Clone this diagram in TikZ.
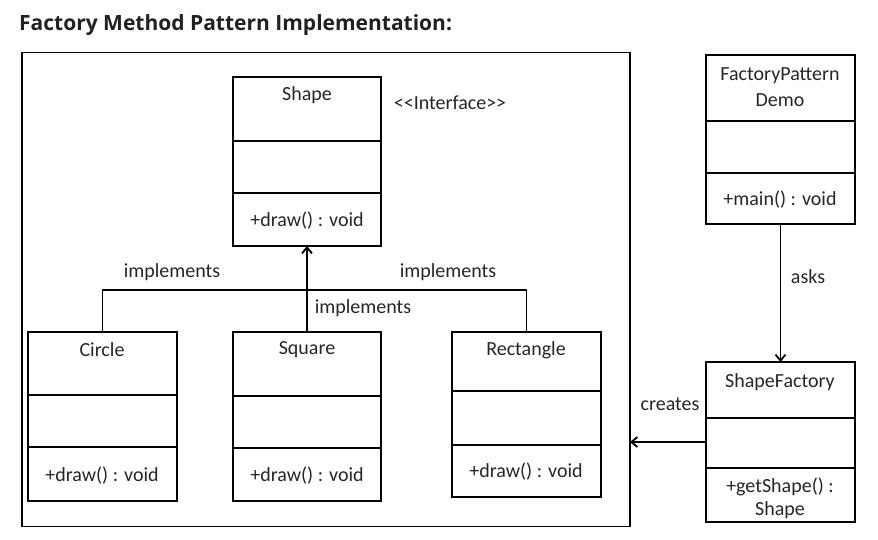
\documentclass[tikz,border=0pt]{standalone}
\usepackage{fontspec}
\setmainfont{Carlito}
\newfontfamily\titlefont{Open Sans}
\usetikzlibrary{arrows.meta}

\tikzset{
  classbox/.style={draw, line width=1.8pt, inner sep=0pt, outer sep=0pt},
  divider/.style={line width=1.8pt},
  link/.style={line width=1.8pt},
  linkarrow/.style={line width=1.8pt, -{Straight Barb[length=6pt,width=10pt]}},
  txt/.style={font=\fontsize{20}{26}\selectfont, text=black!85, inner sep=0pt, align=center},
}

\begin{document}
\begin{tikzpicture}[x=1pt, y=-1pt]
        \useasboundingbox (0,0) rectangle (878,539);

        \node[anchor=west, inner sep=0pt, text=black!87,
              font=\titlefont\bfseries\fontsize{21}{24}\selectfont] (title) at (19,25)
              {Factory Method Pattern Implementation:};

        % frame round the shapes
        \node[classbox, minimum width=608pt, minimum height=474pt] (frame) at (326,289.5) {};

        % Shape interface
        \node[classbox, minimum width=148pt, minimum height=169pt] (shape) at (307,161.5) {};
        \draw[divider] (shape.west |- 0,141) -- (shape.east |- 0,141);
        \draw[divider] (shape.west |- 0,193) -- (shape.east |- 0,193);
        \node[txt] (shapename) at (307,95) {Shape};
        \node[txt] (shapedraw) at (307,221) {+draw() : void};
        \node[txt] (interface) at (450,103) {<{}<Interface>{}>};

        % Circle, Square, Rectangle
        \node[classbox, minimum width=149pt, minimum height=169pt] (circle) at (102.5,416.5) {};
        \draw[divider] (circle.west |- 0,395) -- (circle.east |- 0,395);
        \draw[divider] (circle.west |- 0,447) -- (circle.east |- 0,447);
        \node[txt] (circlename) at (102,350) {Circle};
        \node[txt] (circledraw) at (102,476) {+draw() : void};

        \node[classbox, minimum width=148pt, minimum height=169pt] (square) at (307,416.5) {};
        \draw[divider] (square.west |- 0,396) -- (square.east |- 0,396);
        \draw[divider] (square.west |- 0,448) -- (square.east |- 0,448);
        \node[txt] (squarename) at (307,350) {Square};
        \node[txt] (squaredraw) at (307,476) {+draw() : void};

        \node[classbox, minimum width=149pt, minimum height=165pt] (rect) at (526.5,414.5) {};
        \draw[divider] (rect.west |- 0,391) -- (rect.east |- 0,391);
        \draw[divider] (rect.west |- 0,445) -- (rect.east |- 0,445);
        \node[txt] (rectname) at (526,350) {Rectangle};
        \node[txt] (rectdraw) at (526,472) {+draw() : void};

        % FactoryPatternDemo
        \node[classbox, minimum width=149pt, minimum height=169pt] (demo) at (780.5,139.5) {};
        \draw[divider] (demo.west |- 0,121) -- (demo.east |- 0,121);
        \draw[divider] (demo.west |- 0,173) -- (demo.east |- 0,173);
        \node[txt] (demoname) at (780,87) {FactoryPattern\\Demo};
        \node[txt] (demomain) at (780,200) {+main() : void};

        % ShapeFactory
        \node[classbox, minimum width=149pt, minimum height=160pt] (factory) at (780.5,442) {};
        \draw[divider] (factory.west |- 0,418) -- (factory.east |- 0,418);
        \draw[divider] (factory.west |- 0,468) -- (factory.east |- 0,468);
        \node[txt] (factoryname) at (780,382) {ShapeFactory};
        \node[txt, font=\fontsize{20}{23}\selectfont] (factoryget) at (780,498.5) {+getShape() :\\Shape};

        % connectors
        \coordinate (join) at (307,290);
        \draw[link] (circle.north) |- (join) -| (rect.north);
        \draw[linkarrow] (square.north) -- (shape.south);
        \draw[linkarrow] (demo.south) -- (factory.north);
        \draw[linkarrow] (factory.west) -- (factory.west -| frame.east);

        \node[txt] (impleft) at (172,272) {implements};
        \node[txt] (impright) at (448,272) {implements};
        \node[txt] (impmid) at (363,308) {implements};
        \node[txt] (asks) at (808,277) {asks};
        \node[txt] (creates) at (670,404) {creates};
    \end{tikzpicture}
\end{document}
